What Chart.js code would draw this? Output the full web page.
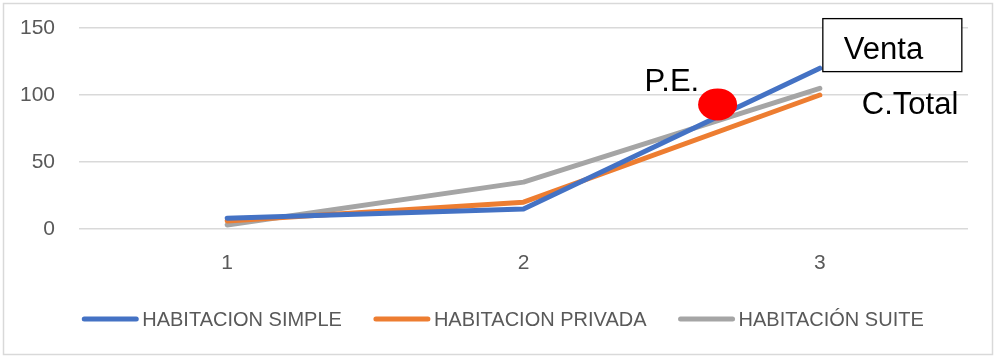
<!DOCTYPE html>
<html>
<head>
<meta charset="utf-8">
<script src="https://cdn.jsdelivr.net/npm/chart.js@4/dist/chart.umd.min.js"></script>
<style>
  html, body { margin: 0; padding: 0; background: #ffffff; }
  canvas { display: block; }
</style>
</head>
<body>
<canvas id="chart" width="996" height="358"></canvas>
<script>
// Categories and series
const categories = ['1', '2', '3'];
const simpleValues = [8, 15, 120];
const privadaValues = [6, 20, 100];
const suiteValues = [3, 35, 105];
const seriesNames = ['HABITACION SIMPLE', 'HABITACION PRIVADA', 'HABITACIÓN SUITE'];
const yTicks = [0, 50, 100, 150];

// Break-even point (category index, value) and annotation texts
const breakEven = { x: 1.655, y: 93 };
const ventaLabel = 'Venta';
const costLabel = 'C.Total';
const breakEvenLabel = 'P.E.';

const FONT = '"Liberation Sans", Arial, sans-serif';
const TEXT_GREY = '#595959';
const GRID_GREY = '#d9d9d9';

// Outer frame of the chart
const framePlugin = {
  id: 'frame',
  beforeDraw(chart) {
    const ctx = chart.ctx;
    ctx.save();
    ctx.fillStyle = '#ffffff';
    ctx.fillRect(0, 0, chart.width, chart.height);
    ctx.strokeStyle = GRID_GREY;
    ctx.lineWidth = 1.5;
    ctx.strokeRect(3.5, 3.5, chart.width - 7, chart.height - 7);
    ctx.restore();
  }
};

// Venta / C.Total / P.E. callouts
const calloutPlugin = {
  id: 'callouts',
  afterDatasetsDraw(chart) {
    const ctx = chart.ctx;
    const xs = chart.scales.x, ys = chart.scales.y;
    const lastX = xs.getPixelForValue(2);
    ctx.save();
    ctx.font = '31px ' + FONT;
    ctx.textBaseline = 'alphabetic';
    ctx.textAlign = 'left';

    // Venta box
    const bx = lastX + 3, by = ys.getPixelForValue(157), bw = 139, bh = 53;
    ctx.fillStyle = '#ffffff';
    ctx.fillRect(bx, by, bw, bh);
    ctx.strokeStyle = '#000000';
    ctx.lineWidth = 1.3;
    ctx.strokeRect(bx, by, bw, bh);
    ctx.fillStyle = '#000000';
    ctx.fillText(ventaLabel, bx + 21, by + 40);

    // C.Total
    ctx.fillText(costLabel, lastX + 42, ys.getPixelForValue(85.5));

    // Break-even marker
    const px = xs.getPixelForValue(breakEven.x);
    const py = ys.getPixelForValue(breakEven.y);
    ctx.fillStyle = '#ff0000';
    ctx.beginPath();
    ctx.ellipse(px, py, 19.5, 16, 0, 0, Math.PI * 2);
    ctx.fill();
    ctx.fillStyle = '#000000';
    ctx.fillText(breakEvenLabel, px - 73, py - 13);
    ctx.restore();
  }
};

// Legend row under the axis
const legendPlugin = {
  id: 'bottomLegend',
  afterDraw(chart) {
    const ctx = chart.ctx;
    const ds = chart.data.datasets;
    const sample = 56, textGap = 4, itemGap = 32, y = 319;
    ctx.save();
    ctx.font = '20px ' + FONT;
    const widths = ds.map(d => sample + textGap + ctx.measureText(d.label).width);
    const total = widths.reduce((a, b) => a + b, 0) + itemGap * (ds.length - 1);
    let x = (chart.width - total) / 2 + 5;
    ds.forEach((d, i) => {
      ctx.strokeStyle = d.borderColor;
      ctx.lineWidth = 5;
      ctx.lineCap = 'round';
      ctx.beginPath();
      ctx.moveTo(x + 2, y);
      ctx.lineTo(x + sample - 2, y);
      ctx.stroke();
      ctx.fillStyle = TEXT_GREY;
      ctx.textBaseline = 'middle';
      ctx.textAlign = 'left';
      ctx.fillText(d.label, x + sample + textGap, y + 1);
      x += widths[i] + itemGap;
    });
    ctx.restore();
  }
};

const lineStyle = {
  borderWidth: 5,
  pointRadius: 0,
  pointHoverRadius: 0,
  tension: 0,
  borderCapStyle: 'round',
  borderJoinStyle: 'round',
  fill: false
};

new Chart(document.getElementById('chart'), {
  type: 'line',
  data: {
    labels: categories,
    datasets: [
      Object.assign({ label: seriesNames[0], data: simpleValues, borderColor: '#4472c4', backgroundColor: '#4472c4' }, lineStyle),
      Object.assign({ label: seriesNames[1], data: privadaValues, borderColor: '#ed7d31', backgroundColor: '#ed7d31' }, lineStyle),
      Object.assign({ label: seriesNames[2], data: suiteValues, borderColor: '#a5a5a5', backgroundColor: '#a5a5a5' }, lineStyle)
    ]
  },
  options: {
    responsive: false,
    animation: false,
    layout: { padding: { left: 0, top: 28, right: 28, bottom: 0 } },
    plugins: {
      legend: { display: false },
      tooltip: { enabled: false },
      title: { display: false }
    },
    scales: {
      x: {
        offset: true,
        grid: { display: false },
        border: { display: false },
        ticks: { color: TEXT_GREY, font: { family: FONT, size: 21 }, padding: 14 },
        afterFit(scale) { scale.height = 129; }
      },
      y: {
        min: yTicks[0],
        max: yTicks[yTicks.length - 1],
        afterBuildTicks(scale) { scale.ticks = yTicks.map(v => ({ value: v })); },
        grid: { color: GRID_GREY, lineWidth: 1.5, drawTicks: false },
        border: { display: false },
        ticks: { color: TEXT_GREY, font: { family: FONT, size: 21 }, padding: 24 },
        afterFit(scale) {
          scale.width = 79;
          scale.paddingTop = 0;
          scale.paddingBottom = 0;
        }
      }
    }
  },
  plugins: [framePlugin, calloutPlugin, legendPlugin]
});
</script>
</body>
</html>
